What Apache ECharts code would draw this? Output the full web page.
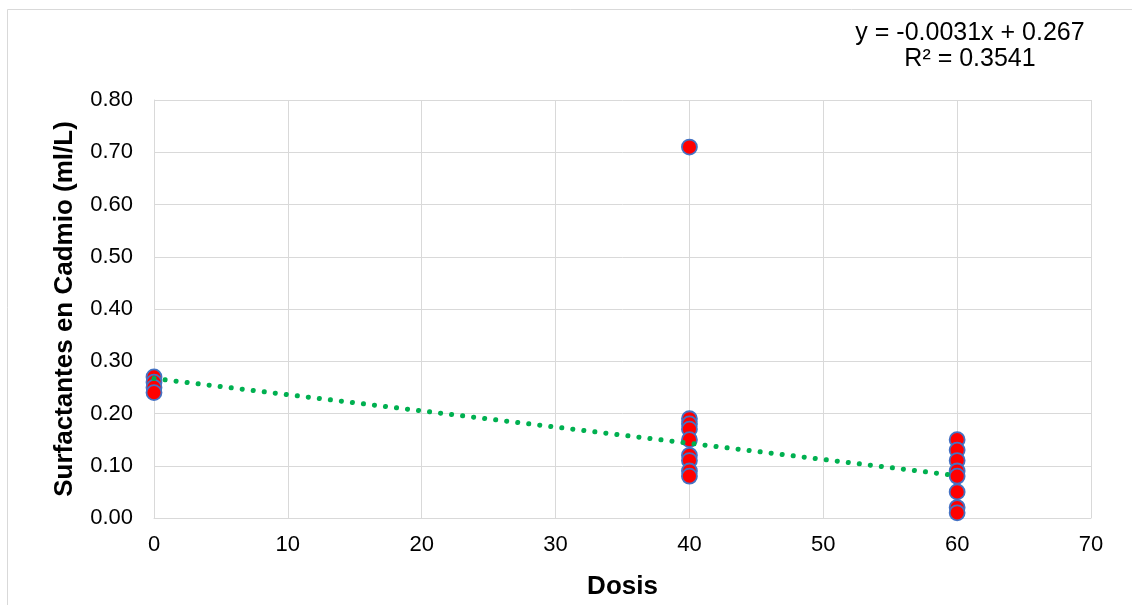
<!DOCTYPE html>
<html>
<head>
<meta charset="utf-8">
<script src="https://cdn.jsdelivr.net/npm/echarts@6/dist/echarts.min.js"></script>
<style>html,body{margin:0;padding:0;background:#fff}#c{width:1132px;height:605px}</style>
</head>
<body>
<div id="c"></div>
<script>
var dosis = [0,0,0,0, 40,40,40,40,40,40,40,40,40, 60,60,60,60,60,60,60,60];
var cadmio = [0.27,0.26,0.25,0.24, 0.71,0.19,0.18,0.17,0.15,0.12,0.11,0.09,0.08, 0.15,0.13,0.11,0.09,0.08,0.05,0.02,0.01];
var slope = -0.0031, intercept = 0.267, r2 = 0.3541;
var trendX = [0, 60];
var yTicks = ['0.00','0.10','0.20','0.30','0.40','0.50','0.60','0.70','0.80'];

var pts = dosis.map(function(d,i){return [d, cadmio[i]];});
var trend = trendX.map(function(x){return [x, slope*x+intercept];});
var font = '"Liberation Sans", Arial, sans-serif';
var chart = echarts.init(document.getElementById('c'));
chart.setOption({
  animation:false,
  backgroundColor:'#fff',
  grid:{left:154,right:41,top:100,bottom:87},
  xAxis:{type:'value',min:0,max:70,interval:10,
    name:'Dosis',nameLocation:'middle',nameGap:56,
    nameTextStyle:{fontFamily:font,fontSize:26,fontWeight:'bold',color:'#000'},
    axisLine:{show:true,lineStyle:{color:'#d9d9d9'}},axisTick:{show:false},
    axisLabel:{fontFamily:font,fontSize:22,color:'#000',margin:16},
    splitLine:{show:true,lineStyle:{color:'#d9d9d9',width:1}}},
  yAxis:{type:'value',min:0,max:0.8,interval:0.1,
    name:'Surfactantes en Cadmio (ml/L)',nameLocation:'middle',nameGap:76,
    nameTextStyle:{fontFamily:font,fontSize:26,fontWeight:'bold',color:'#000'},
    axisLine:{show:true,lineStyle:{color:'#d9d9d9'}},axisTick:{show:false},
    axisLabel:{fontFamily:font,fontSize:22,color:'#000',margin:21,
      formatter:function(v){var i=Math.round(v*10);return yTicks[i];}},
    splitLine:{show:true,lineStyle:{color:'#d9d9d9',width:1}}},
  graphic:[
    {type:'rect',shape:{x:7.5,y:9.5,width:1140,height:620},style:{fill:null,stroke:'#d9d9d9',lineWidth:1},silent:true,z:-1},
    {type:'text',style:{x:970,y:33,text:'y = -0.0031x + 0.267',textAlign:'center',textVerticalAlign:'middle',font:'25px '+font,fill:'#000'}},
    {type:'text',style:{x:970,y:59,text:'R\u00b2 = '+r2,textAlign:'center',textVerticalAlign:'middle',font:'25px '+font,fill:'#000'}}
  ],
  series:[
    {type:'line',data:trend,symbol:'none',z:3,
      lineStyle:{color:'#00B050',width:5,type:[0.1,11],cap:'round'}},
    {type:'scatter',data:pts,symbol:'circle',symbolSize:15,z:2,
      itemStyle:{color:'#FF0000',borderColor:'#4472C4',borderWidth:1.8,opacity:1}}
  ]
});
</script>
</body>
</html>
